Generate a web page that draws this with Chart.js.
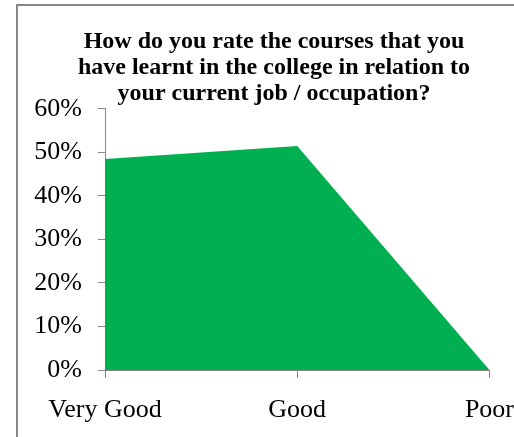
<!DOCTYPE html>
<html>
<head>
<meta charset="utf-8">
<script src="https://cdn.jsdelivr.net/npm/chart.js@4/dist/chart.umd.min.js"></script>
<style>
  html, body { margin: 0; padding: 0; background: #fff; overflow: hidden; }
  #frame {
    position: absolute; left: 16px; top: 4px;
    width: 560px; height: 500px;
    border: 2px solid #878787;
  }
  #chart { position: absolute; left: 0; top: 0; }
</style>
</head>
<body>
<div id="frame"></div>
<canvas id="chart" width="514" height="437"></canvas>
<script>
// Chart data
const categories = ['Very Good', 'Good', 'Poor'];
const shares = [48.5, 51.5, 0];
const titleLines = [
    'How do you rate the courses that you',
    'have learnt in the college in relation to',
    'your current job / occupation?'
];

const axisGray = '#878787';
const serif = 'Liberation Serif, Times New Roman, serif';

const ctx = document.getElementById('chart').getContext('2d');
new Chart(ctx, {
    type: 'line',
    data: {
        labels: categories,
        datasets: [{
            label: 'Share',
            data: shares,
            fill: 'origin',
            backgroundColor: '#00B050',
            borderWidth: 0,
            pointRadius: 0,
            tension: 0
        }]
    },
    options: {
        responsive: false,
        animation: false,
        layout: {
            padding: { left: 34, right: 0, top: 0, bottom: -6 }
        },
        plugins: {
            legend: { display: false },
            tooltip: { enabled: false },
            title: {
                display: true,
                text: titleLines,
                color: '#000',
                font: { family: serif, size: 24, weight: 'bold', lineHeight: 1.083 },
                padding: { top: 29, bottom: 2 }
            }
        },
        scales: {
            x: {
                offset: false,
                grid: {
                    drawOnChartArea: false,
                    drawTicks: true,
                    tickLength: 8,
                    color: axisGray
                },
                border: { color: axisGray, width: 1 },
                ticks: {
                    color: '#000',
                    padding: 0,
                    maxRotation: 0,
                    autoSkip: false,
                    // tall line box pushes the labels down without widening the side overflow
                    font: { family: serif, size: 26, lineHeight: 2.5 }
                }
            },
            y: {
                min: 0,
                max: 60,
                grid: {
                    drawOnChartArea: false,
                    drawTicks: true,
                    tickLength: 7,
                    color: axisGray
                },
                border: { color: axisGray, width: 1 },
                ticks: {
                    stepSize: 10,
                    color: '#000',
                    padding: 16,
                    font: { family: serif, size: 26 },
                    callback: v => v + '%'
                },
                // chart.js counts the tick padding twice, pin the axis width
                afterFit: scale => { scale.width = 71; }
            }
        }
    }
});
</script>
</body>
</html>
